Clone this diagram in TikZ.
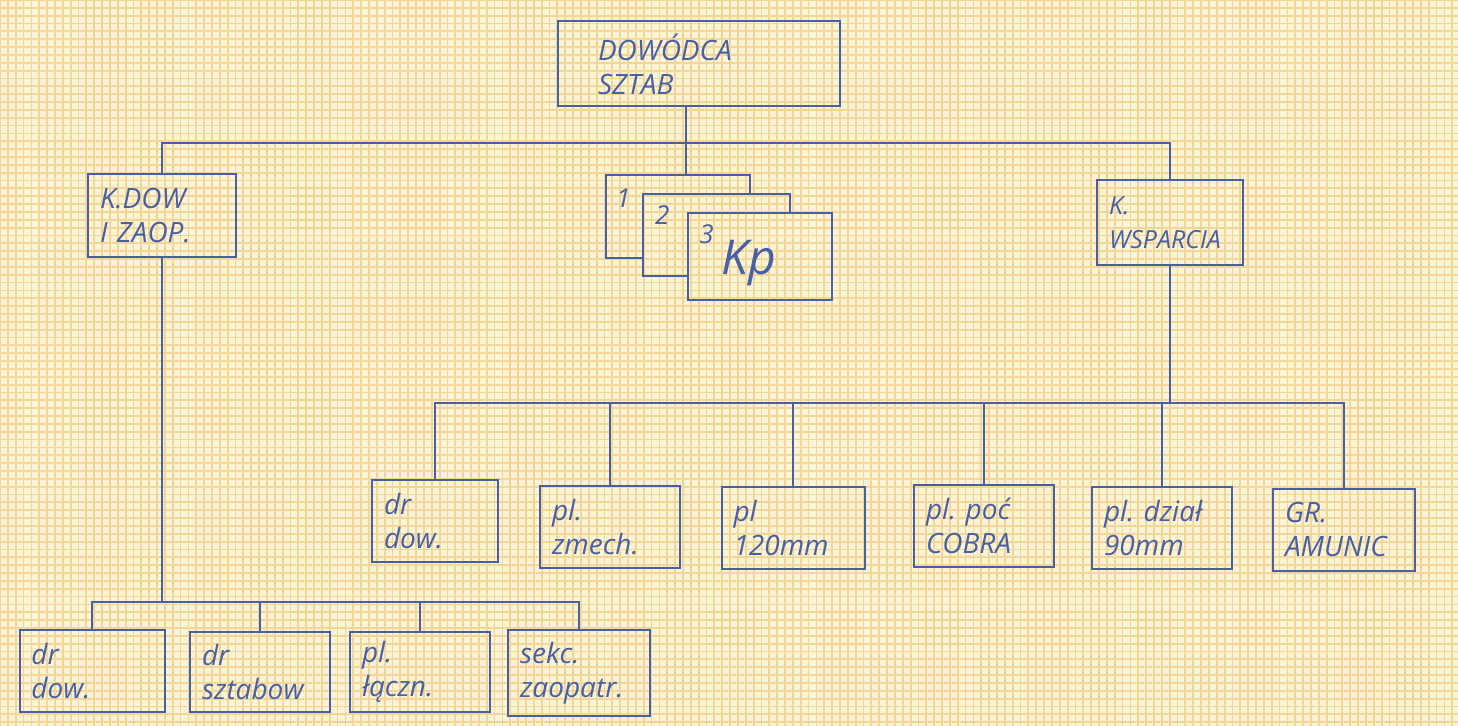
\documentclass[tikz,border=0pt]{standalone}
\usepackage{fontspec}
\setmainfont{Open Sans}
\frenchspacing
\definecolor{ink}{RGB}{72,96,165}
\definecolor{paper}{RGB}{253,244,214}
\definecolor{gridink}{RGB}{243,214,152}

\begin{document}
\begin{tikzpicture}[x=0.5pt,y=-0.5pt,
  unit/.style={draw=ink, line width=1pt, text=ink, font=\itshape\fontsize{14}{17}\selectfont,
    align=left, text width=58pt, inner xsep=6pt, minimum height=41pt},
  stack/.style={minimum width=72pt, minimum height=41.5pt, inner sep=0pt},
  link/.style={draw=ink, line width=1pt},
  num/.style={text=ink, font=\itshape\fontsize{13}{15}\selectfont, inner sep=0pt}]
\useasboundingbox (0,0) rectangle (1458,726);
% graph paper
\fill[paper] (0,0) rectangle (1458,726);
\draw[gridink, line width=0.9pt, step=3.925pt] (0,726) grid (1458,0);

% top
\node[unit, text width=101pt, inner xsep=20pt, minimum height=42.5pt] (hq) at (699,64) {DOWÓDCA\\SZTAB};
\node[unit, text width=62pt, minimum height=41.5pt] (kdow) at (162,216) {K.DOW\\I ZAOP.};
\node[unit, text width=61pt, minimum height=42.5pt, font=\itshape\fontsize{12.5}{17}\selectfont] (kwsp) at (1170,223) {K.\\WSPARCIA};

% companies
\node[stack] (kp1) at (678,216.5) {};
\node[stack, minimum width=73.5pt, minimum height=41pt] (kp2) at (716.5,235) {};
\node[stack, draw=ink, line width=1pt, minimum height=43.5pt] (kp3) at (760,256.5) {};
\draw[link] (kp1.south -| kp2.west) -- (kp1.south west) -- (kp1.north west) -- (kp1.north east) -- (kp1.east |- kp2.north);
\draw[link] (kp2.south -| kp3.west) -- (kp2.south west) -- (kp2.north west) -- (kp2.north east) -- (kp2.east |- kp3.north);
\node[num, anchor=north west] (l1) at ([shift={(10,14)}]kp1.north west) {1};
\node[num, anchor=north west] (l2) at ([shift={(12,12)}]kp2.north west) {2};
\node[num, anchor=north west] (l3) at ([shift={(12,12)}]kp3.north west) {3};
\node[num, anchor=north west, font=\itshape\fontsize{24}{28}\selectfont] (kpname) at ([shift={(34,28)}]kp3.north west) {Kp};

% support company
\node[unit, text width=51pt] (drdowA) at (435,521) {dr\\dow.};
\node[unit] (zmech) at (610,527) {pl.\\zmech.};
\node[unit, text width=59.5pt] (mortar) at (793,528) {pl\\120mm};
\node[unit] (cobra) at (984,526) {pl. poć\\COBRA};
\node[unit] (guns) at (1162,528) {pl. dział\\90mm};
\node[unit, text width=59pt] (amunic) at (1344,530) {GR.\\AMUNIC};

% command and supply company
\node[unit, text width=60.5pt] (drdowB) at (92,671) {dr\\dow.};
\node[unit, minimum height=40pt] (sztab) at (260,672) {dr\\sztabow};
\node[unit, minimum height=40pt] (lacz) at (420,672) {pl.\\łączn.};
\node[unit, text width=59pt, minimum height=43pt] (sekc) at (579,673) {sekc.\\zaopatr.};

% connectors
\coordinate (tapA) at (686,143);
\coordinate (busB) at (0,403);
\coordinate (busC) at (0,602);
\draw[link] (hq.south -| tapA) -- (kp1.north -| tapA);
\draw[link] (kdow.north) |- (tapA) -| (kwsp.north);
\draw[link] (kwsp.south) -- (kwsp.south |- busB);
\draw[link] (drdowA.north) |- (amunic.north |- busB) -- (amunic.north);
\foreach \n in {zmech,mortar,cobra,guns}
  \draw[link] (\n.north) -- (\n.north |- busB);
\draw[link] (kdow.south) -- (kdow.south |- busC);
\draw[link] (drdowB.north) |- (sekc.north |- busC) -- (sekc.north);
\foreach \n in {sztab,lacz}
  \draw[link] (\n.north) -- (\n.north |- busC);
\end{tikzpicture}
\end{document}
